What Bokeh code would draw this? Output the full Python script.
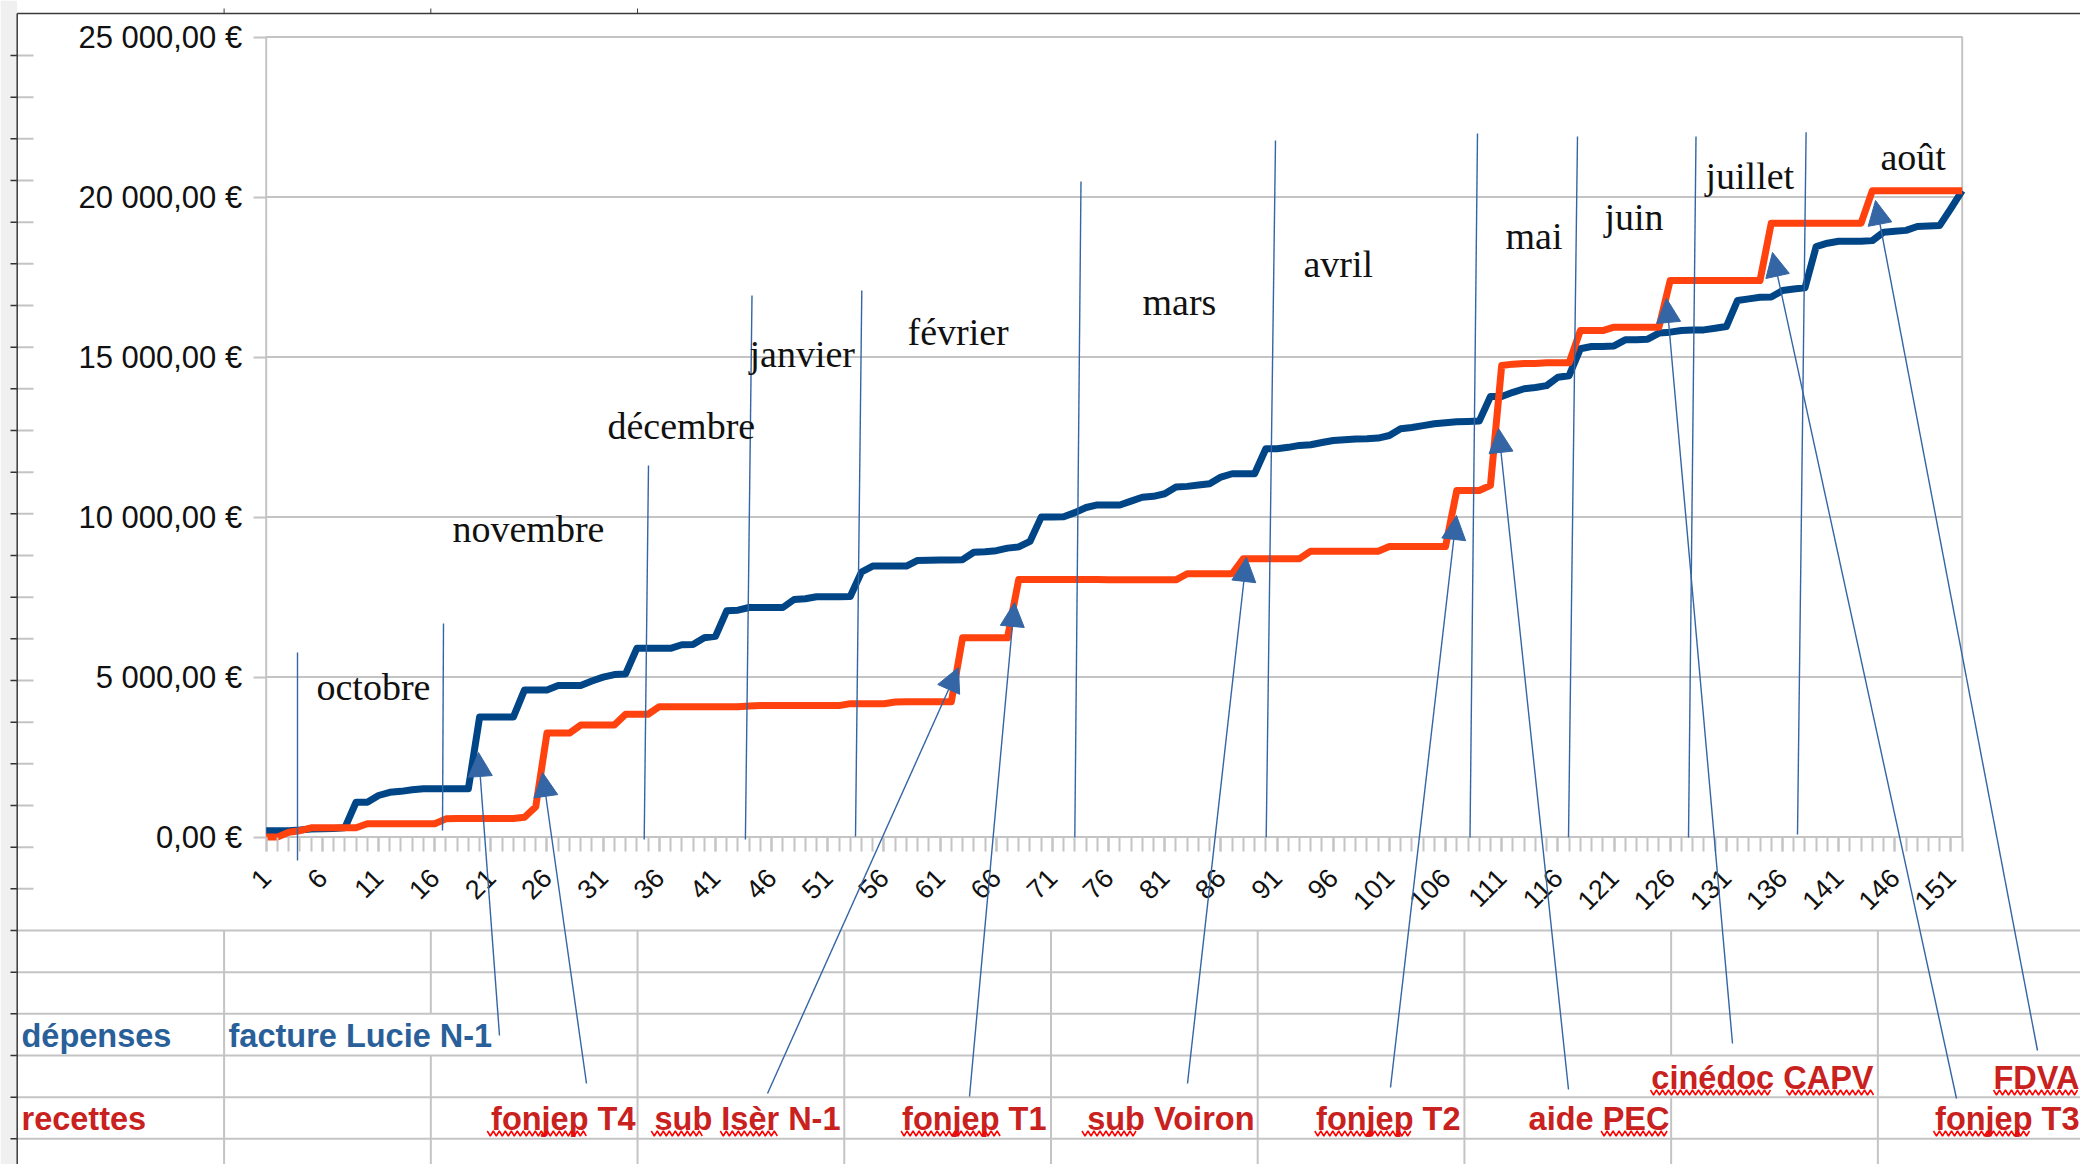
import math
from bokeh.plotting import figure
from bokeh.models import Range1d, LinearAxis, FixedTicker, Arrow, NormalHead, ColumnDataSource
from bokeh.core.properties import value
from bokeh.embed import file_html
from bokeh.resources import INLINE

# ---------------- data ----------------
index = list(range(1, 153))

depenses = [
    200, 200, 200, 220, 250, 260, 270, 290, 1090, 1090,
    1300, 1400, 1430, 1480, 1510, 1510, 1510, 1510, 1510, 3750,
    3750, 3750, 3750, 4600, 4600, 4600, 4740, 4740, 4740, 4880,
    5000, 5080, 5100, 5900, 5900, 5900, 5900, 6010, 6020, 6230,
    6275, 7070, 7090, 7175, 7175, 7175, 7175, 7425, 7450, 7510,
    7510, 7510, 7520, 8285, 8470, 8470, 8470, 8470, 8645, 8650,
    8660, 8660, 8670, 8900, 8920, 8950, 9030, 9070, 9240, 10000,
    10000, 10010, 10140, 10300, 10380, 10380, 10380, 10500, 10620, 10650,
    10730, 10940, 10960, 11000, 11040, 11250, 11355, 11355, 11355, 12135,
    12135, 12180, 12240, 12260, 12330, 12395, 12420, 12440, 12450, 12470,
    12550, 12760, 12800, 12860, 12915, 12950, 12980, 12990, 13000, 13770,
    13770, 13900, 14010, 14050, 14110, 14370, 14420, 15260, 15330, 15330,
    15350, 15540, 15540, 15560, 15750, 15780, 15830, 15850, 15850, 15900,
    15955, 16770, 16820, 16870, 16880, 17080, 17130, 17165, 18455, 18560,
    18620, 18620, 18620, 18640, 18905, 18930, 18960, 19080, 19100, 19115,
    19650, 20200,
]

recettes = [
    0, 0, 150, 200, 290, 290, 290, 290, 290, 415,
    415, 415, 415, 415, 415, 420, 570, 580, 580, 580,
    580, 580, 580, 620, 950, 3250, 3250, 3250, 3500, 3500,
    3500, 3500, 3840, 3840, 3840, 4075, 4075, 4075, 4075, 4075,
    4075, 4075, 4075, 4100, 4110, 4110, 4110, 4110, 4110, 4110,
    4110, 4110, 4170, 4170, 4170, 4170, 4220, 4230, 4230, 4230,
    4230, 4230, 6230, 6230, 6230, 6230, 6230, 8050, 8050, 8050,
    8050, 8050, 8050, 8050, 8050, 8040, 8040, 8040, 8040, 8040,
    8040, 8040, 8230, 8230, 8230, 8230, 8230, 8700, 8700, 8700,
    8700, 8700, 8700, 8935, 8935, 8935, 8935, 8935, 8935, 8935,
    9080, 9080, 9080, 9080, 9080, 9080, 10830, 10830, 10830, 10990,
    14740, 14780, 14800, 14800, 14820, 14820, 14820, 15830, 15830, 15830,
    15935, 15935, 15935, 15935, 15935, 17395, 17395, 17395, 17395, 17395,
    17395, 17395, 17395, 17395, 19185, 19185, 19185, 19185, 19185, 19185,
    19185, 19185, 19185, 20200, 20200, 20200, 20200, 20200, 20200, 20200,
    20200, 20200,
]

y_ticks = [0, 5000, 10000, 15000, 20000, 25000]
y_tick_labels = ["0,00 €", "5 000,00 €", "10 000,00 €", "15 000,00 €", "20 000,00 €", "25 000,00 €"]
x_label_ticks = list(range(1, 152, 5))

months = ["octobre", "novembre", "décembre", "janvier", "février", "mars",
          "avril", "mai", "juin", "juillet", "août"]
row_headers = ["dépenses", "recettes"]
depense_events = ["facture Lucie N-1"]
recette_events_row1 = ["cinédoc CAPV", "FDVA"]
recette_events_row2 = ["fonjep T4", "sub Isèr N-1", "fonjep T1", "sub Voiron",
                       "fonjep T2", "aide PEC", "fonjep T3"]

# ---------------- layout (page pixel positions) ----------------
W, H = 2080, 1164
OX, OY = 0, 0
X_FIRST_PX, X_LAST_PX = 265.7, 1961.7
Y0_PX = 836.6
PX_PER_EUR = 160.0 / 5000.0
STEP = (X_LAST_PX - X_FIRST_PX) / (len(index) - 1)

BLUE = "#004586"
ORANGE = "#ff420e"
SHAPE = "#3465a4"
GRID = "#c4c4c4"
TXT_BLUE = "#2a6099"
TXT_RED = "#c9211e"

x_range = Range1d(index[0] + (OX - X_FIRST_PX) / STEP, index[0] + (OX + W - X_FIRST_PX) / STEP)
y_range = Range1d((Y0_PX - (OY + H)) / PX_PER_EUR, (Y0_PX - OY) / PX_PER_EUR)

p = figure(width=W, height=H, x_range=x_range, y_range=y_range,
           x_axis_type=None, y_axis_type=None, toolbar_location=None,
           output_backend="svg", min_border=0, title=None)
p.outline_line_color = None
p.background_fill_color = "white"
p.border_fill_color = "white"
p.extra_x_ranges = {"px": Range1d(OX, OX + W)}
p.extra_y_ranges = {"py": Range1d(OY + H, OY)}
PG = dict(x_range_name="px", y_range_name="py")

# ---------------- spreadsheet background ----------------
p.quad(left=[OX], right=[16.7], top=[OY], bottom=[OY + H], fill_color="#f0f0f0",
       line_color=None, **PG)

row_lines = [55 + 41.667 * k for k in range(27)]
sheet_rows = [y for y in row_lines if y > 925]
p.segment(x0=[16.7] * len(sheet_rows), x1=[OX + W] * len(sheet_rows), y0=sheet_rows, y1=sheet_rows,
          line_color=GRID, line_width=2, **PG)
upper_rows = [y for y in row_lines if y <= 925]
p.segment(x0=[16.7] * len(upper_rows), x1=[33] * len(upper_rows), y0=upper_rows, y1=upper_rows,
          line_color=GRID, line_width=2, **PG)
p.segment(x0=[10] * len(row_lines), x1=[16.7] * len(row_lines), y0=row_lines, y1=row_lines,
          line_color="#333333", line_width=1.5, **PG)

col_x = [223.6 + 206.72 * k for k in range(9)]
vx0, vy0, vx1, vy1 = [], [], [], []
hidden = {1: (1013.3, 1055.0), 7: (1055.0, 1096.7)}
for k, cx in enumerate(col_x):
    if k in hidden:
        a, b = hidden[k]
        vx0 += [cx, cx]; vx1 += [cx, cx]; vy0 += [930, b]; vy1 += [a, OY + H]
    else:
        vx0.append(cx); vx1.append(cx); vy0.append(930); vy1.append(OY + H)
p.segment(x0=vx0, x1=vx1, y0=vy0, y1=vy1, line_color=GRID, line_width=2, **PG)

p.segment(x0=[16.7, 16.7], x1=[OX + W, 16.7], y0=[13, 13], y1=[13, OY + H],
          line_color="#3a3a3a", line_width=1.5, **PG)
p.segment(x0=col_x[:3], x1=col_x[:3], y0=[8] * 3, y1=[13] * 3,
          line_color="#3a3a3a", line_width=1, **PG)

# ---------------- chart frame & grid ----------------
p.segment(x0=[index[0]] * (len(y_ticks) - 2), x1=[index[-1]] * (len(y_ticks) - 2),
          y0=y_ticks[1:-1], y1=y_ticks[1:-1], line_color=GRID, line_width=2)
p.quad(left=[index[0]], right=[index[-1]], bottom=[y_ticks[0]], top=[y_ticks[-1]],
       fill_color=None, line_color=GRID, line_width=2)

p.line(index, depenses, line_color=BLUE, line_width=7, line_join="round")
p.line(index, recettes, line_color=ORANGE, line_width=7, line_join="round")

yaxis = LinearAxis(fixed_location=index[0], ticker=FixedTicker(ticks=y_ticks),
                   major_label_overrides=dict(zip(y_ticks, y_tick_labels)))
yaxis.axis_line_color = None
yaxis.major_tick_out = 13
yaxis.major_tick_in = 0
yaxis.minor_tick_out = 0
yaxis.minor_tick_in = 0
yaxis.major_tick_line_color = GRID
yaxis.major_tick_line_width = 2
yaxis.major_label_standoff = 11
yaxis.major_label_text_font = "Liberation Sans"
yaxis.major_label_text_font_size = "31px"
yaxis.major_label_text_color = "#111111"
p.add_layout(yaxis, "left")

xaxis = LinearAxis(fixed_location=y_ticks[0],
                   ticker=FixedTicker(ticks=x_label_ticks, minor_ticks=index))
xaxis.axis_line_color = None
xaxis.major_tick_out = 14
xaxis.major_tick_in = 0
xaxis.minor_tick_out = 14
xaxis.minor_tick_in = 0
xaxis.major_tick_line_color = GRID
xaxis.minor_tick_line_color = GRID
xaxis.major_tick_line_width = 2
xaxis.minor_tick_line_width = 2
xaxis.major_label_orientation = math.pi / 4
xaxis.major_label_standoff = 22
xaxis.major_label_text_font = "Liberation Sans"
xaxis.major_label_text_font_size = "27px"
xaxis.major_label_text_color = "#111111"
p.add_layout(xaxis, "below")

# ---------------- month separators and labels (drawing shapes) ----------------
sep = [(297, 652, 297, 860), (443, 623, 442, 830), (648, 465, 643.7, 839),
       (751.5, 295, 744.9, 839), (861.3, 290, 855, 836), (1080.5, 181, 1074.3, 837),
       (1275, 140, 1265.7, 837), (1477, 133, 1469.5, 837), (1577, 136, 1568, 837),
       (1695.5, 136, 1688, 837), (1805.6, 131.7, 1797, 834)]
p.segment(x0=[s[0] for s in sep], y0=[s[1] for s in sep], x1=[s[2] for s in sep],
          y1=[s[3] for s in sep], line_color=SHAPE, line_width=1.4, **PG)

month_pos = [(316, 686), (452, 528), (607, 425), (749, 353), (907, 331), (1142, 301),
             (1303, 263), (1505, 235), (1604, 216), (1705, 175), (1880, 156)]
p.text(x=[m[0] for m in month_pos], y=[m[1] for m in month_pos], text=months,
       text_font=value("Liberation Serif"), text_font_size="38px", text_color="#111111",
       text_align="left", text_baseline="alphabetic", **PG)

# ---------------- spreadsheet texts ----------------
B1, B2, B3 = 1035, 1077, 1118
p.text(x=[21], y=[B1], text=[row_headers[0]], text_font=value("Liberation Sans"),
       text_font_style="bold", text_font_size="32.5px", text_color=TXT_BLUE,
       text_align="left", text_baseline="alphabetic", **PG)
p.text(x=[228], y=[B1], text=depense_events, text_font=value("Liberation Sans"),
       text_font_style="bold", text_font_size="32.5px", text_color=TXT_BLUE,
       text_align="left", text_baseline="alphabetic", **PG)
p.text(x=[21], y=[B3], text=[row_headers[1]], text_font=value("Liberation Sans"),
       text_font_style="bold", text_font_size="32.5px", text_color=TXT_RED,
       text_align="left", text_baseline="alphabetic", **PG)
p.text(x=[1873, 2079], y=[B2, B2], text=recette_events_row1,
       text_font=value("Liberation Sans"), text_font_style="bold", text_font_size="32.5px",
       text_color=TXT_RED, text_align="right", text_baseline="alphabetic", **PG)
p.text(x=[635, 840, 1046, 1254, 1460, 1669, 2079], y=[B3] * 7, text=recette_events_row2,
       text_font=value("Liberation Sans"), text_font_style="bold", text_font_size="32.5px",
       text_color=TXT_RED, text_align="right", text_baseline="alphabetic", **PG)

# spell-check squiggles
squig = [(486.8, 588, 1133), (650.8, 703, 1133), (719.8, 778, 1133), (900.6, 1001, 1133),
         (1081.5, 1137, 1133), (1314.3, 1412.6, 1133), (1600.6, 1669, 1133),
         (1933, 2030, 1133), (1650, 1772.5, 1092), (1786, 1873, 1092), (1993, 2079, 1092)]
sx, sy = [], []
for a, b, yc in squig:
    n = int((b - a) / 3)
    sx.append([a + 3 * k for k in range(n + 1)])
    sy.append([yc + (2.5 if k % 2 else -2.5) for k in range(n + 1)])
p.multi_line(xs=sx, ys=sy, line_color="#ff0000", line_width=1.5, **PG)

# ---------------- arrows ----------------
arrows = ColumnDataSource(dict(
    x0=[499, 586, 767, 969, 1187, 1390, 1568, 1732, 1956, 2037],
    y0=[1035, 1083, 1093, 1096, 1083, 1087, 1089, 1043, 1098, 1050],
    x1=[478, 542, 958, 1014, 1246, 1456, 1498, 1666, 1772, 1875],
    y1=[752, 772, 667, 602, 557, 515, 428, 298, 252, 200],
))
p.add_layout(Arrow(x_start="x0", y_start="y0", x_end="x1", y_end="y1", source=arrows,
                   line_color=SHAPE, line_width=1.4,
                   end=NormalHead(size=24, fill_color=SHAPE, line_color=SHAPE, line_width=1),
                   **PG))

open("out.html", "w").write(file_html(p, INLINE))
